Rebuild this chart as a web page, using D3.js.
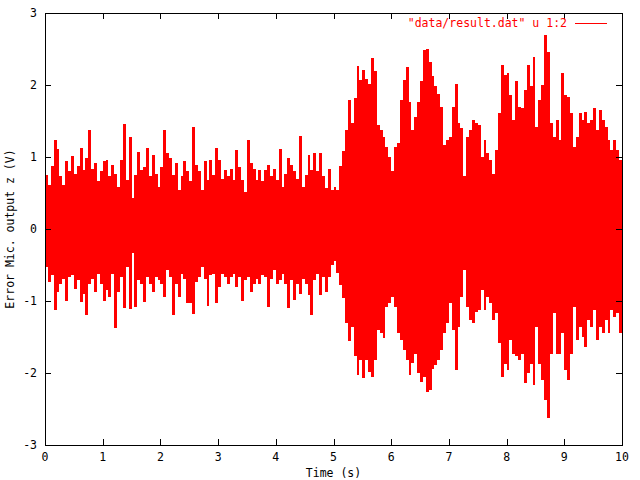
<!DOCTYPE html>
<html><head><meta charset="utf-8">
<script src="https://cdn.jsdelivr.net/npm/d3@7/dist/d3.min.js"></script>
<style>
html,body{margin:0;padding:0;background:#fff;}
text{font-family:"DejaVu Sans Mono","Liberation Mono",monospace;font-size:11.5px;}
</style></head>
<body><svg id="c" width="640" height="480"></svg>
<script>
// Sampling step of the envelope series (seconds)
const sampleStep = 0.05;
// Upper envelope (V) per 0.05 s
const upper = [
0.75,0.61,0.87,1.24,1.11,0.73,0.61,0.94,0.80,1.01,0.77,0.87,1.13,0.82,0.98,1.38,0.84,0.91,0.66,0.80,
0.94,0.96,0.73,0.89,0.77,0.59,0.96,1.46,0.68,1.28,0.43,0.75,1.07,0.82,0.86,1.12,0.73,1.03,0.77,0.59,
0.86,1.38,1.05,0.98,0.75,0.91,0.54,0.73,0.94,0.80,0.66,1.41,0.89,0.80,0.54,0.94,0.68,0.96,0.75,1.12,
0.96,0.70,0.82,0.73,0.84,0.68,1.10,0.86,0.68,0.52,1.24,0.91,0.84,0.68,0.82,0.66,0.82,0.89,0.73,0.84,
0.68,1.11,0.59,0.77,0.98,0.89,0.80,0.70,1.29,0.59,0.75,1.03,0.82,1.06,0.80,1.05,0.73,0.57,0.84,0.54,
0.59,0.54,0.87,1.08,1.38,1.79,1.47,1.82,2.26,2.07,2.21,2.09,2.02,2.37,2.19,1.44,1.38,1.28,1.14,1.00,
0.80,1.14,1.19,1.79,2.07,2.25,1.77,1.38,1.56,1.77,2.05,2.49,2.50,2.32,2.12,1.98,1.88,1.70,1.17,1.24,
1.28,1.70,2.02,1.47,1.40,0.73,1.28,1.38,1.51,1.47,1.44,1.00,1.24,1.05,0.96,0.77,1.10,1.61,2.28,2.14,
2.16,1.86,1.51,2.05,1.70,1.68,1.93,2.28,1.98,2.39,1.42,1.79,2.00,2.69,2.46,1.47,1.28,1.51,1.24,2.16,
1.86,1.84,1.61,1.14,1.28,1.61,1.51,1.63,1.47,1.51,1.68,1.37,1.65,1.51,1.42,1.24,1.10,1.24,1.10,0.96
];
// Lower envelope (V) per 0.05 s
const lower = [
-0.53,-0.73,-0.64,-1.12,-0.88,-0.76,-0.69,-1.00,-0.66,-0.64,-0.83,-0.71,-1.02,-0.90,-1.20,-0.76,-0.69,-0.87,-0.62,-0.76,
-1.00,-0.85,-0.94,-0.62,-1.37,-0.87,-0.66,-1.10,-0.53,-1.11,-0.34,-1.08,-0.71,-0.76,-1.02,-0.66,-0.76,-0.87,-0.66,-0.71,
-0.76,-0.94,-0.57,-0.66,-1.19,-0.76,-0.94,-0.62,-0.69,-1.03,-1.03,-1.18,-0.73,-0.66,-0.53,-0.69,-1.07,-0.64,-0.62,-1.03,
-0.80,-0.62,-0.66,-0.76,-0.66,-0.62,-0.80,-0.66,-1.00,-0.71,-0.66,-0.87,-0.76,-0.69,-0.76,-0.64,-0.66,-1.08,-0.69,-0.57,
-0.76,-0.71,-0.62,-0.76,-1.10,-0.71,-0.99,-0.76,-0.90,-0.69,-0.76,-0.92,-1.19,-0.71,-0.62,-0.92,-0.66,-0.87,-0.66,-0.50,
-0.45,-0.61,-0.78,-0.96,-1.31,-1.56,-1.36,-1.77,-2.03,-1.82,-2.07,-1.82,-1.98,-2.05,-1.82,-1.40,-1.45,-1.52,-1.08,-1.03,
-0.94,-1.08,-1.45,-1.54,-1.68,-1.82,-2.03,-1.86,-1.73,-2.00,-2.12,-2.05,-2.26,-2.24,-1.94,-1.89,-1.82,-1.68,-1.45,-1.31,
-1.03,-1.40,-1.96,-1.36,-0.94,-0.57,-1.08,-1.26,-1.31,-1.15,-1.12,-0.85,-1.12,-0.94,-1.03,-1.26,-1.17,-1.59,-2.05,-1.87,
-1.96,-1.54,-1.73,-1.77,-1.82,-1.73,-2.14,-2.00,-1.87,-2.17,-1.36,-1.87,-2.10,-2.38,-2.63,-1.73,-1.17,-1.73,-1.73,-1.45,
-1.96,-2.10,-1.73,-1.08,-1.54,-1.36,-1.50,-1.64,-1.26,-1.36,-1.12,-1.54,-1.36,-1.45,-1.26,-1.45,-1.12,-1.22,-1.17,-1.45
];
const xTicks = [0,1,2,3,4,5,6,7,8,9,10];
const yTicks = [-3,-2,-1,0,1,2,3];
const xLabel = "Time (s)";
const yLabel = "Error Mic. output z (V)";
const legendLabel = "\"data/result.dat\" u 1:2";

const svg = d3.select("#c");
const L = 45, R = 622, T = 13, B = 445;
const x = d3.scaleLinear().domain([0,10]).range([L,R]);
const y = d3.scaleLinear().domain([-3,3]).range([B,T]);

// signal: every sample column filled between its lower and upper value
const samples = upper.map((u,i)=>({t:i*sampleStep, hi:u, lo:lower[i]}));
samples.push({t:10, hi:upper[upper.length-1], lo:lower[lower.length-1]});
const area = d3.area().curve(d3.curveStepAfter)
  .x(d=>x(d.t)).y0(d=>y(d.lo)).y1(d=>y(d.hi));
svg.append("path").attr("d", area(samples))
  .attr("fill","#ff0000").attr("stroke","none").attr("shape-rendering","crispEdges");

// border
svg.append("rect").attr("x",L+0.5).attr("y",T+0.5).attr("width",R-L).attr("height",B-T)
  .attr("fill","none").attr("stroke","#000").attr("stroke-width",1);

const tickLen = 6;
const g = svg.append("g").attr("stroke","#000").attr("stroke-width",1);
xTicks.forEach(v=>{
  const px = Math.round(x(v))+0.5;
  g.append("line").attr("x1",px).attr("x2",px).attr("y1",B).attr("y2",B-tickLen);
  g.append("line").attr("x1",px).attr("x2",px).attr("y1",T).attr("y2",T+tickLen);
});
yTicks.forEach(v=>{
  const py = Math.round(y(v))+0.5;
  g.append("line").attr("x1",L).attr("x2",L+tickLen).attr("y1",py).attr("y2",py);
  g.append("line").attr("x1",R).attr("x2",R-tickLen).attr("y1",py).attr("y2",py);
});

xTicks.forEach(v=>{
  svg.append("text").attr("x",x(v)).attr("y",B+16).attr("text-anchor","middle").text(v);
});
yTicks.forEach(v=>{
  svg.append("text").attr("x",L-8).attr("y",y(v)+4).attr("text-anchor","end").text(v);
});
svg.append("text").attr("x",(L+R)/2).attr("y",B+32).attr("text-anchor","middle").text(xLabel);
svg.append("text").attr("transform",`translate(14,${(T+B)/2}) rotate(-90)`).attr("text-anchor","middle").text(yLabel);

// legend
svg.append("text").attr("x",567).attr("y",T+14).attr("text-anchor","end").attr("fill","#ff0000").text(legendLabel);
svg.append("line").attr("x1",575).attr("x2",607).attr("y1",T+10.5).attr("y2",T+10.5)
  .attr("stroke","#ff0000").attr("stroke-width",1);
</script></body></html>
